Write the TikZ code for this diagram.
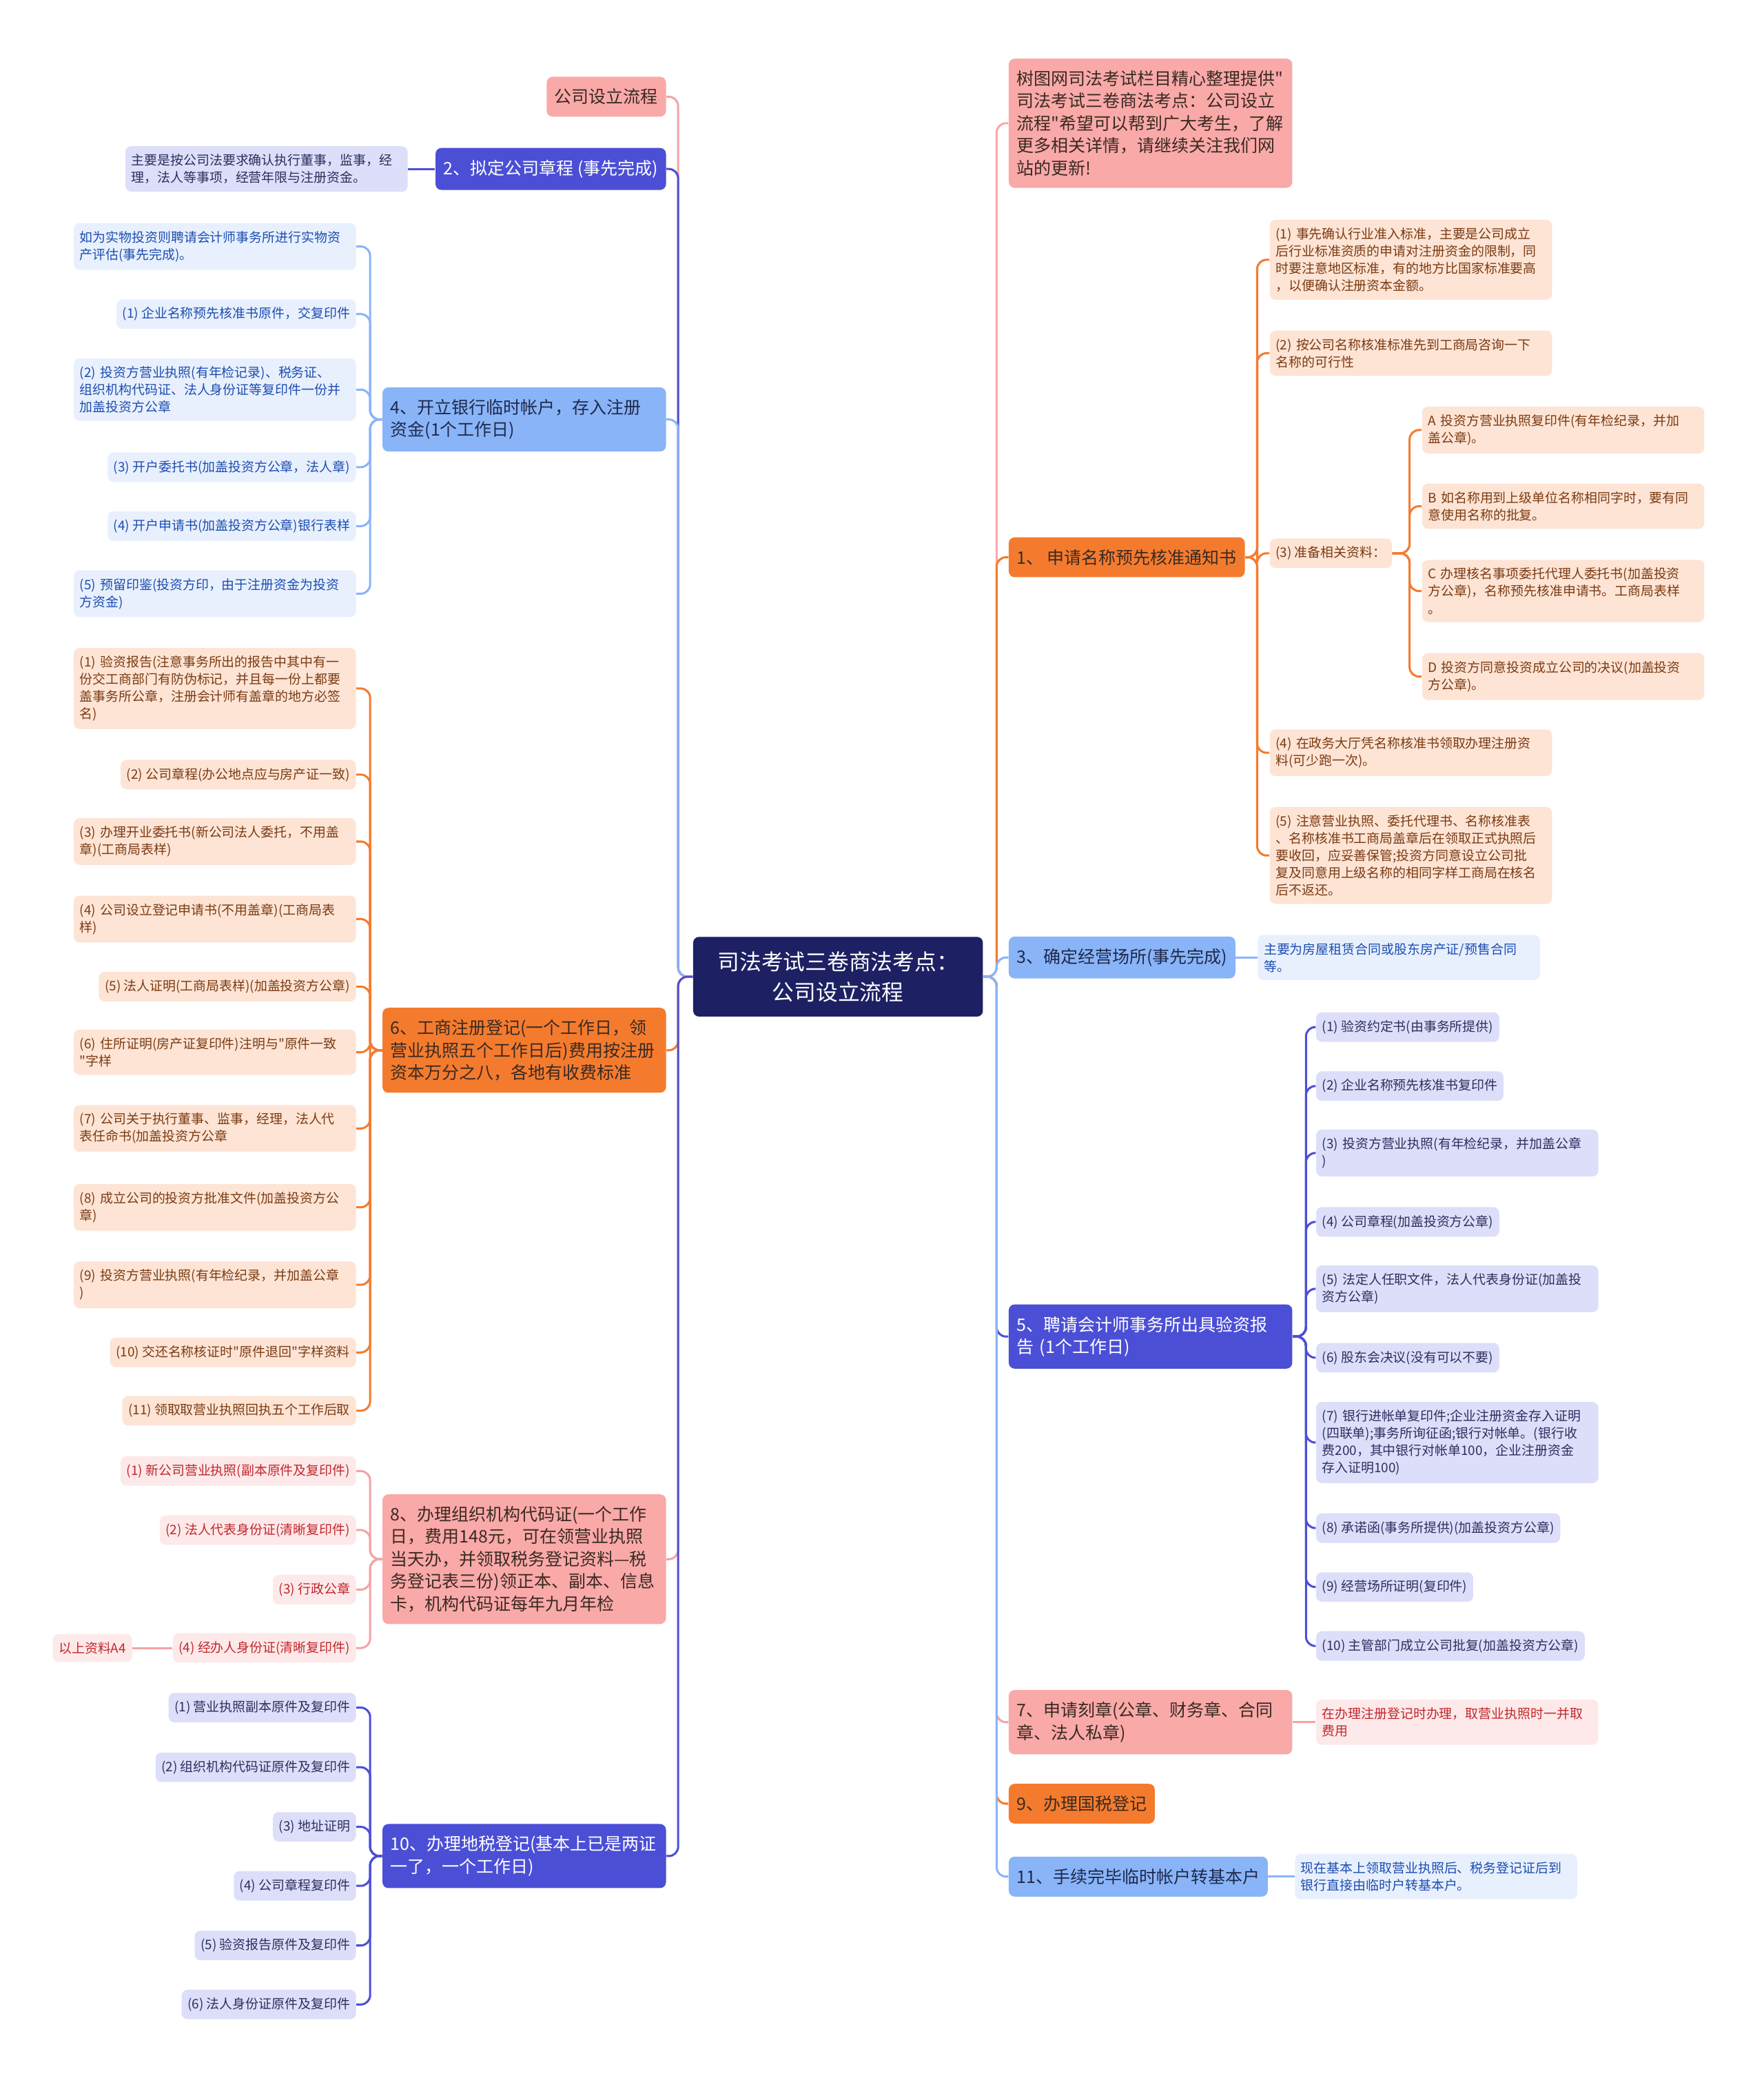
\documentclass[tikz,border=0pt]{standalone}
\usepackage{fontspec}
\setmainfont{Noto Sans CJK SC}[Ligatures=TeXOff]

\definecolor{cRoot}{HTML}{1D2163}
\definecolor{cDark}{HTML}{4B4FD6}
\definecolor{cLight}{HTML}{8AB4F8}
\definecolor{cOrange}{HTML}{F47B2E}
\definecolor{cPink}{HTML}{F9A9A8}
\definecolor{cMainT}{HTML}{3A2A22}
\definecolor{cLightT}{HTML}{1E2A4C}
\definecolor{fLav}{HTML}{DDDEF9}
\definecolor{tLav}{HTML}{2E2E5E}
\definecolor{fSky}{HTML}{E8F0FE}
\definecolor{tSky}{HTML}{1C4DB0}
\definecolor{fPeach}{HTML}{FDE4D5}
\definecolor{tPeach}{HTML}{7B3B12}
\definecolor{fRose}{HTML}{FDE9E9}
\definecolor{tRose}{HTML}{C1272D}
\definecolor{lPink}{HTML}{F4A3A3}

\begin{document}
\begin{tikzpicture}[
  x=0.02cm, y=-0.02cm,
  box/.style={rounded corners=2.5pt, inner xsep=0.12cm, inner ysep=0.18cm, align=left,
              font=\fontsize{7.4}{9.6}\selectfont},
  root/.style={rounded corners=2.5pt, fill=cRoot, text=white, align=center,
               inner xsep=0.37cm, inner ysep=0.22cm, font=\fontsize{9.4}{13}\selectfont},
  dkb/.style={box, fill=cDark, text=white},
  ltb/.style={box, fill=cLight, text=cLightT},
  org/.style={box, fill=cOrange, text=cMainT},
  pnk/.style={box, fill=cPink, text=cMainT},
  wide/.style={text width=4.04cm},
  leaf/.style={rounded corners=2.5pt, inner xsep=0.09cm, inner ysep=0.12cm, align=left,
               font=\fontsize{5.6}{7.4}\selectfont},
  lav/.style={leaf, fill=fLav, text=tLav},
  sky/.style={leaf, fill=fSky, text=tSky},
  peach/.style={leaf, fill=fPeach, text=tPeach},
  rose/.style={leaf, fill=fRose, text=tRose},
  lwide/.style={text width=4.08cm},
  link/.style={line width=0.9pt, rounded corners=4pt},
]
\useasboundingbox (0,0) rectangle (1331,1568);

\def\rx{761}  \def\lx{503}
\def\rl{958}  \def\rq{1073} \def\rv{993}  \def\ll{269}

% root
\node[root] (root) at (632.5,737) {司法考试三卷商法考点：\\公司设立流程};

% right branches
\node[pnk, wide, anchor=west] (intro) at (\rx,93) {树图网司法考试栏目精心整理提供"\\司法考试三卷商法考点：公司设立\\流程"希望可以帮到广大考生，了解\\更多相关详情，请继续关注我们网\\站的更新!};
\node[org, anchor=west] (s1) at (\rx,420.5) {1、 申请名称预先核准通知书};
\node[ltb, anchor=west] (s3) at (\rx,722.5) {3、确定经营场所(事先完成)};
\node[dkb, wide, anchor=west] (s5) at (\rx,1008.5) {5、聘请会计师事务所出具验资报\\告 (1个工作日)};
\node[pnk, wide, anchor=west] (s7) at (\rx,1299.5) {7、申请刻章(公章、财务章、合同\\章、法人私章)};
\node[org, anchor=west] (s9) at (\rx,1361) {9、办理国税登记};
\node[ltb, anchor=west] (s11) at (\rx,1416) {11、手续完毕临时帐户转基本户};

% left branches
\node[pnk, anchor=east] (title) at (\lx,73) {公司设立流程};
\node[dkb, anchor=east] (s2) at (\lx,127.5) {2、拟定公司章程 (事先完成)};
\node[ltb, wide, anchor=east] (s4) at (\lx,316.5) {4、开立银行临时帐户，存入注册\\资金(1个工作日)};
\node[org, wide, anchor=east] (s6) at (\lx,792.5) {6、工商注册登记(一个工作日，领\\营业执照五个工作日后)费用按注册\\资本万分之八，各地有收费标准};
\node[pnk, wide, anchor=east] (s8) at (\lx,1176.5) {8、办理组织机构代码证(一个工作\\日，费用148元，可在领营业执照\\当天办，并领取税务登记资料—税\\务登记表三份)领正本、副本、信息\\卡，机构代码证每年九月年检};
\node[dkb, wide, anchor=east] (s10) at (\lx,1400.5) {10、办理地税登记(基本上已是两证\\一了，一个工作日)};

% 1: name approval
\node[peach, lwide, anchor=west] (s1a) at (\rl,196) {(1) 事先确认行业准入标准，主要是公司成立\\后行业标准资质的申请对注册资金的限制，同\\时要注意地区标准，有的地方比国家标准要高\\，以便确认注册资本金额。};
\node[peach, lwide, anchor=west] (s1b) at (\rl,266.5) {(2) 按公司名称核准标准先到工商局咨询一下\\名称的可行性};
\node[peach, anchor=west] (s1c) at (\rl,417.5) {(3) 准备相关资料：};
\node[peach, lwide, anchor=west] (s1d) at (\rl,568) {(4) 在政务大厅凭名称核准书领取办理注册资\\料(可少跑一次)。};
\node[peach, lwide, anchor=west] (s1e) at (\rl,645.5) {(5) 注意营业执照、委托代理书、名称核准表\\、名称核准书工商局盖章后在领取正式执照后\\要收回，应妥善保管;投资方同意设立公司批\\复及同意用上级名称的相同字样工商局在核名\\后不返还。};
\node[peach, lwide, anchor=west] (s1c1) at (\rq,324.5) {A 投资方营业执照复印件(有年检纪录，并加\\盖公章)。};
\node[peach, lwide, anchor=west] (s1c2) at (\rq,382) {B 如名称用到上级单位名称相同字时，要有同\\意使用名称的批复。};
\node[peach, lwide, anchor=west] (s1c3) at (\rq,446) {C 办理核名事项委托代理人委托书(加盖投资\\方公章)，名称预先核准申请书。工商局表样\\。};
\node[peach, lwide, anchor=west] (s1c4) at (\rq,510.5) {D 投资方同意投资成立公司的决议(加盖投资\\方公章)。};

% 3: premises
\node[sky, lwide, anchor=west] (s3a) at (949,722.5) {主要为房屋租赁合同或股东房产证/预售合同\\等。};

% 5: capital verification
\node[lav, anchor=west] (s5a) at (\rv,775) {(1) 验资约定书(由事务所提供)};
\node[lav, anchor=west] (s5b) at (\rv,819.5) {(2) 企业名称预先核准书复印件};
\node[lav, lwide, anchor=west] (s5c) at (\rv,870) {(3) 投资方营业执照(有年检纪录，并加盖公章\\)};
\node[lav, anchor=west] (s5d) at (\rv,922) {(4) 公司章程(加盖投资方公章)};
\node[lav, lwide, anchor=west] (s5e) at (\rv,972.5) {(5) 法定人任职文件，法人代表身份证(加盖投\\资方公章)};
\node[lav, anchor=west] (s5f) at (\rv,1024.5) {(6) 股东会决议(没有可以不要)};
\node[lav, lwide, anchor=west] (s5g) at (\rv,1088.5) {(7) 银行进帐单复印件;企业注册资金存入证明\\(四联单);事务所询征函;银行对帐单。(银行收\\费200，其中银行对帐单100，企业注册资金\\存入证明100)};
\node[lav, anchor=west] (s5h) at (\rv,1153) {(8) 承诺函(事务所提供)(加盖投资方公章)};
\node[lav, anchor=west] (s5i) at (\rv,1197.5) {(9) 经营场所证明(复印件)};
\node[lav, anchor=west] (s5j) at (\rv,1242) {(10) 主管部门成立公司批复(加盖投资方公章)};

% 7 and 11
\node[rose, lwide, anchor=west] (s7a) at (\rv,1299.5) {在办理注册登记时办理，取营业执照时一并取\\费用};
\node[sky, lwide, anchor=west] (s11a) at (977,1416) {现在基本上领取营业执照后、税务登记证后到\\银行直接由临时户转基本户。};

% 2: articles
\node[lav, lwide, anchor=east] (s2a) at (308,127.5) {主要是按公司法要求确认执行董事，监事，经\\理，法人等事项，经营年限与注册资金。};

% 4: bank account
\node[sky, lwide, anchor=east] (s4a) at (\ll,186) {如为实物投资则聘请会计师事务所进行实物资\\产评估(事先完成)。};
\node[sky, anchor=east] (s4b) at (\ll,237) {(1) 企业名称预先核准书原件，交复印件};
\node[sky, lwide, anchor=east] (s4c) at (\ll,294) {(2) 投资方营业执照(有年检记录)、税务证、\\组织机构代码证、法人身份证等复印件一份并\\加盖投资方公章};
\node[sky, anchor=east] (s4d) at (\ll,352.5) {(3) 开户委托书(加盖投资方公章，法人章)};
\node[sky, anchor=east] (s4e) at (\ll,397) {(4) 开户申请书(加盖投资方公章)银行表样};
\node[sky, lwide, anchor=east] (s4f) at (\ll,448) {(5) 预留印鉴(投资方印，由于注册资金为投资\\方资金)};

% 6: registration
\node[peach, lwide, anchor=east] (s6a) at (\ll,519.5) {(1) 验资报告(注意事务所出的报告中其中有一\\份交工商部门有防伪标记，并且每一份上都要\\盖事务所公章，注册会计师有盖章的地方必签\\名)};
\node[peach, anchor=east] (s6b) at (\ll,584.5) {(2) 公司章程(办公地点应与房产证一致)};
\node[peach, lwide, anchor=east] (s6c) at (\ll,635) {(3) 办理开业委托书(新公司法人委托，不用盖\\章)(工商局表样)};
\node[peach, lwide, anchor=east] (s6d) at (\ll,693.5) {(4) 公司设立登记申请书(不用盖章)(工商局表\\样)};
\node[peach, anchor=east] (s6e) at (\ll,744.5) {(5) 法人证明(工商局表样)(加盖投资方公章)};
\node[peach, lwide, anchor=east] (s6f) at (\ll,794) {(6) 住所证明(房产证复印件)注明与"原件一致\\"字样};
\node[peach, lwide, anchor=east] (s6g) at (\ll,851.5) {(7) 公司关于执行董事、监事，经理，法人代\\表任命书(加盖投资方公章};
\node[peach, lwide, anchor=east] (s6h) at (\ll,911) {(8) 成立公司的投资方批准文件(加盖投资方公\\章)};
\node[peach, lwide, anchor=east] (s6i) at (\ll,969.5) {(9) 投资方营业执照(有年检纪录，并加盖公章\\)};
\node[peach, anchor=east] (s6j) at (\ll,1020.5) {(10) 交还名称核证时"原件退回"字样资料};
\node[peach, anchor=east] (s6k) at (\ll,1064.5) {(11) 领取取营业执照回执五个工作后取};

% 8: organisation code
\node[rose, anchor=east] (s8a) at (\ll,1110) {(1) 新公司营业执照(副本原件及复印件)};
\node[rose, anchor=east] (s8b) at (\ll,1154.5) {(2) 法人代表身份证(清晰复印件)};
\node[rose, anchor=east] (s8c) at (\ll,1199.5) {(3) 行政公章};
\node[rose, anchor=east] (s8d) at (\ll,1243.5) {(4) 经办人身份证(清晰复印件)};
\node[rose, anchor=east] (s8x) at (100,1243.5) {以上资料A4};

% 10: local tax
\node[lav, anchor=east] (s10a) at (\ll,1288.5) {(1) 营业执照副本原件及复印件};
\node[lav, anchor=east] (s10b) at (\ll,1333.5) {(2) 组织机构代码证原件及复印件};
\node[lav, anchor=east] (s10c) at (\ll,1378.5) {(3) 地址证明};
\node[lav, anchor=east] (s10d) at (\ll,1423) {(4) 公司章程复印件};
\node[lav, anchor=east] (s10e) at (\ll,1468) {(5) 验资报告原件及复印件};
\node[lav, anchor=east] (s10f) at (\ll,1512.5) {(6) 法人身份证原件及复印件};

% connectors from the root
\foreach \b/\c in {intro/cPink, s1/cOrange, s3/cLight, s5/cDark, s7/lPink, s9/cOrange, s11/cLight}
  \draw[link, draw=\c] (root.east) -- ++(10,0) |- (\b.west);
\foreach \b/\c in {title/lPink, s2/cDark, s4/cLight, s6/cOrange, s8/lPink, s10/cDark}
  \draw[link, draw=\c] (root.west) -- ++(-11,0) |- (\b.east);

% connectors to the leaves
\foreach \n in {s1a,s1b,s1c,s1d,s1e}
  \draw[link, cOrange] (s1.east) -- ++(9,0) |- (\n.west);
\foreach \n in {s1c1,s1c2,s1c3,s1c4}
  \draw[link, cOrange] (s1c.east) -- ++(13,0) |- (\n.west);
\draw[link, cLight] (s3.east) -- (s3a.west);
\foreach \n in {s5a,s5b,s5c,s5d,s5e,s5f,s5g,s5h,s5i,s5j}
  \draw[link, cDark] (s5.east) -- ++(10,0) |- (\n.west);
\draw[link, lPink] (s7.east) -- (s7a.west);
\draw[link, cLight] (s11.east) -- (s11a.west);

\draw[link, cDark] (s2.west) -- (s2a.east);
\foreach \n in {s4a,s4b,s4c,s4d,s4e,s4f}
  \draw[link, cLight] (s4.west) -- ++(-9,0) |- (\n.east);
\foreach \n in {s6a,s6b,s6c,s6d,s6e,s6f,s6g,s6h,s6i,s6j,s6k}
  \draw[link, cOrange] (s6.west) -- ++(-9,0) |- (\n.east);
\foreach \n in {s8a,s8b,s8c,s8d}
  \draw[link, lPink] (s8.west) -- ++(-9,0) |- (\n.east);
\draw[link, lPink] (s8d.west) -- (s8x.east);
\foreach \n in {s10a,s10b,s10c,s10d,s10e,s10f}
  \draw[link, cDark] (s10.west) -- ++(-9,0) |- (\n.east);

\end{tikzpicture}
\end{document}
